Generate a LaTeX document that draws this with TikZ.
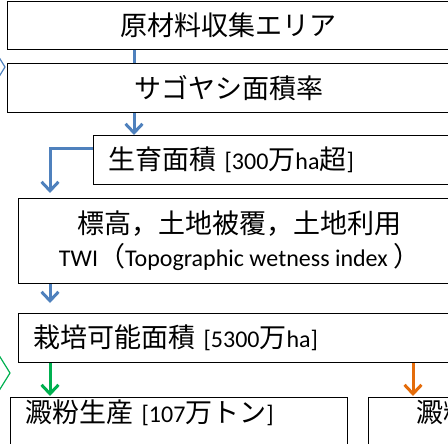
\documentclass[tikz,border=0pt]{standalone}
\usepackage{fontspec}
\setmainfont{Carlito}
\newfontfamily\kanjifont{Noto Sans CJK JP}
\newfontfamily\kanafont{Noto Sans CJK SC}
\newfontfamily\punctfont{Noto Sans CJK KR}
\newfontfamily\manfont{Noto Sans CJK TC}
\usetikzlibrary{arrows.meta, positioning, calc}
\definecolor{blueC}{RGB}{79,129,189}
\definecolor{greenC}{RGB}{0,176,80}
\definecolor{orangeC}{RGB}{228,108,10}
\newcommand{\jp}[1]{{\kanjifont\fontsize{27}{32}\selectfont #1}}
\newcommand{\kn}[1]{{\kanafont\fontsize{27}{32}\selectfont #1}}
\newcommand{\pu}[1]{{\punctfont\fontsize{27}{32}\selectfont #1}}
\newcommand{\mn}[1]{{\manfont\fontsize{27}{32}\selectfont #1}}

\begin{document}
\begin{tikzpicture}[
    x=1pt, y=-1pt,
    % Box styles of the flow chart
    frame/.style={draw=black, line width=1.2pt, anchor=north west, inner sep=0pt, font=\fontsize{24}{33}\selectfont},
    lbox/.style={frame, align=left, inner xsep=15pt},
    flow/.style={line width=3pt, -{Straight Barb[length=9pt, width=17pt]}},
    chev/.style={line width=1.2pt}
]

    \useasboundingbox (0,0) rectangle (448,444);
    \clip (0,0) rectangle (448,444);

    % Lanes of the vertical connectors
    \coordinate (lane1) at (134,0);
    \coordinate (lane2) at (50,0);
    \coordinate (lane3) at (413,0);

    % --- Boxes ---
    \node[frame, minimum width=442pt, minimum height=48pt] (area) at (7,1) {\jp{原材料収集}\kn{エリア}};
    \node[frame, minimum width=442pt, minimum height=49pt] (sago) at (7,63) {\kn{サゴヤシ}\jp{面積率}};
    \node[lbox, text width=347pt, minimum height=49pt] (growth) at (93,135) {\jp{生育面積} [300\mn{万}ha\jp{超}]};
    \node[frame, minimum width=442pt, minimum height=85pt, align=center] (terrain) at (18,198)
        {\jp{標高}\pu{，}\jp{土地被覆}\pu{，}\jp{土地利用}\\TWI\pu{（}Topographic wetness index \pu{）}};
    \node[lbox, text width=422pt, minimum height=49pt] (arable) at (18,313) {\jp{栽培可能面積} [5300\mn{万}ha]};
    \node[lbox, text width=307pt, text height=20pt, text depth=50pt, inner ysep=5pt] (starch) at (10,397) {\jp{澱粉生産} [107\mn{万}\kn{トン}]};
    \node[lbox, inner xsep=48pt, text width=60pt, text height=20pt, text depth=50pt, inner ysep=5pt] (starchB) at (368,397) {\jp{澱粉}};

    % --- Connectors ---
    \draw[blueC, line width=3pt] (area.south -| lane1) -- (sago.north -| lane1);
    \draw[flow, blueC] (sago.south -| lane1) -- (growth.north -| lane1);
    \draw[flow, blueC, shorten >=5pt] ([yshift=-14pt]growth.north west) -| (terrain.north -| lane2);
    \draw[flow, blueC, shorten >=10pt] (terrain.south -| lane2) -- (arable.north -| lane2);
    \draw[flow, greenC, shorten >=1pt] (arable.south -| lane2) -- (starch.north -| lane2);
    \draw[flow, orangeC, shorten >=1pt] (arable.south -| lane3) -- (starchB.north -| lane3);

    % --- Chevrons cut by the left edge ---
    \draw[chev, blueC] (-8,46) -- (5,67) -- (-8,88);
    \draw[chev, greenC] (-8,344) -- (10,373) -- (-8,402);

\end{tikzpicture}
\end{document}
